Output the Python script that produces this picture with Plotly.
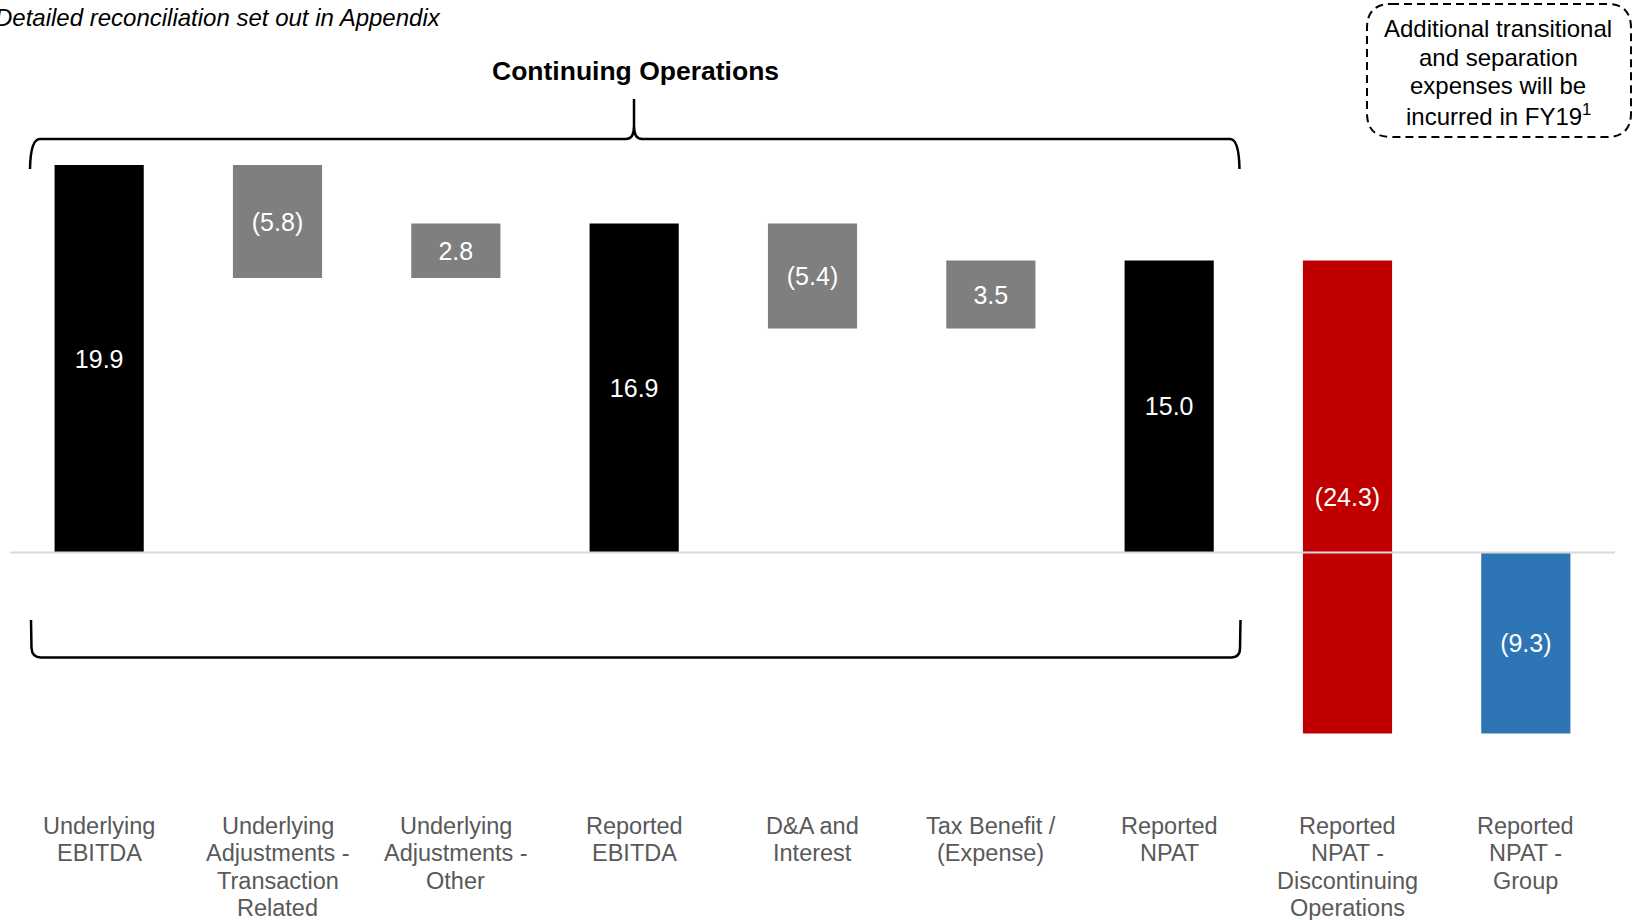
import plotly.graph_objects as go

# ---------------- data ----------------
categories = [
    "Underlying<br>EBITDA",
    "Underlying<br>Adjustments -<br>Transaction<br>Related",
    "Underlying<br>Adjustments -<br>Other",
    "Reported<br>EBITDA",
    "D&A and<br>Interest",
    "Tax Benefit /<br>(Expense)",
    "Reported<br>NPAT",
    "Reported<br>NPAT -<br>Discontinuing<br>Operations",
    "Reported<br>NPAT -<br>Group",
]
values = [19.9, -5.8, 2.8, 16.9, -5.4, 3.5, 15.0, -24.3, -9.3]
measures = ["total", "relative", "relative", "total", "relative", "relative",
            "total", "relative", "total"]
bar_colors = ["#000000", "#7f7f7f", "#7f7f7f", "#000000", "#7f7f7f", "#7f7f7f",
              "#000000", "#c00000", "#2e75b6"]

title_text = "<b>Continuing Operations</b>"
note_text = "<i>Detailed reconciliation set out in Appendix</i>"
box_lines = ["Additional transitional", "and separation", "expenses will be",
             "incurred in FY19<sup>1</sup>"]

# ---------------- waterfall geometry from data ----------------
bases, heights, labels = [], [], []
running = 0.0
for v, m in zip(values, measures):
    if m == "total":
        bases.append(0.0)
        running = v
    else:
        bases.append(running)
        running += v
    heights.append(v)
    labels.append(f"({abs(v):.1f})" if v < 0 else f"{v:.1f}")

# ---------------- layout constants ----------------
W, H = 1644, 920
ML, MR = 10, 29
PLOT_TOP, PLOT_BOT = 140, 811
ZERO_PX, PX_PER_UNIT = 552.5, 19.47
y_top = (ZERO_PX - PLOT_TOP) / PX_PER_UNIT
y_bot = (ZERO_PX - PLOT_BOT) / PX_PER_UNIT
PW = W - ML - MR
PH = PLOT_BOT - PLOT_TOP

def px(x):
    return (x - ML) / PW

def py(y):
    return (PLOT_BOT - y) / PH

def path(points_cmds):
    out = []
    for cmd in points_cmds:
        c = cmd[0]
        nums = cmd[1:]
        pts = []
        for i in range(0, len(nums), 2):
            pts.append(f"{px(nums[i]):.5f},{py(nums[i+1]):.5f}")
        out.append(c + " " + " ".join(pts))
    return " ".join(out)

FONT = "Arial, Liberation Sans, sans-serif"

fig = go.Figure()
fig.add_trace(go.Bar(
    x=categories,
    y=heights,
    base=bases,
    marker=dict(color=bar_colors, line=dict(width=0)),
    text=labels,
    textposition="inside",
    insidetextanchor="middle",
    textangle=0,
    constraintext="none",
    textfont=dict(color="white", size=25, family=FONT),
    hoverinfo="skip",
))

top_brace = path([
    ("M", 30, 169), ("Q", 30.5, 139, 40, 139), ("L", 626, 139),
    ("Q", 634, 139, 634, 126), ("L", 634, 99), ("L", 634, 126),
    ("Q", 634, 139, 642, 139), ("L", 1230, 139), ("Q", 1239, 139, 1239.5, 169),
])
bottom_brace = path([
    ("M", 31, 620), ("L", 31.5, 648), ("Q", 32, 657.5, 41, 657.5),
    ("L", 1231, 657.5), ("Q", 1240, 657.5, 1240, 648), ("L", 1240.5, 620),
])
bx0, by0, bx1, by1, r = 1367, 4, 1631, 137, 24
box_path = path([
    ("M", bx0 + r, by0), ("L", bx1 - r, by0), ("Q", bx1, by0, bx1, by0 + r),
    ("L", bx1, by1 - r), ("Q", bx1, by1, bx1 - r, by1), ("L", bx0 + r, by1),
    ("Q", bx0, by1, bx0, by1 - r), ("L", bx0, by0 + r), ("Q", bx0, by0, bx0 + r, by0),
])

shapes = [
    dict(type="line", xref="paper", yref="y", x0=0, x1=1, y0=0, y1=0,
         line=dict(color="#d9d9d9", width=2), layer="above"),
    dict(type="path", xref="paper", yref="paper", path=top_brace,
         line=dict(color="black", width=2.5), fillcolor="rgba(0,0,0,0)"),
    dict(type="path", xref="paper", yref="paper", path=bottom_brace,
         line=dict(color="black", width=2.5), fillcolor="rgba(0,0,0,0)"),
    dict(type="path", xref="paper", yref="paper", path=box_path,
         line=dict(color="black", width=2, dash="8px,5px"), fillcolor="rgba(0,0,0,0)"),
]

annotations = [
    dict(text=title_text, xref="paper", yref="paper", x=px(635), y=py(71),
         xanchor="center", yanchor="middle", showarrow=False,
         font=dict(size=26.5, color="black", family=FONT)),
    dict(text=note_text, xref="paper", yref="paper", x=px(443), y=py(18),
         xanchor="right", yanchor="middle", showarrow=False,
         font=dict(size=24, color="black", family=FONT)),
]
BOX_LINE0, BOX_STEP = 28.5, 28.7
for k, line in enumerate(box_lines):
    annotations.append(dict(
        text=line, xref="paper", yref="paper", x=px(1498), y=py(BOX_LINE0 + k * BOX_STEP),
        xanchor="center", yanchor="middle", showarrow=False,
        font=dict(size=24, color="black", family=FONT)))

# category labels (tight line spacing as in the reference), anchored on the category axis
CAT_LINE0, CAT_STEP = 826, 27.3
for cat in categories:
    for k, line in enumerate(cat.split("<br>")):
        annotations.append(dict(
            text=line, xref="x", yref="paper", x=cat, y=py(CAT_LINE0 + k * CAT_STEP),
            xanchor="center", yanchor="middle", showarrow=False,
            font=dict(size=23.5, color="#595959", family=FONT)))

fig.update_layout(
    width=W, height=H,
    template="none",
    margin=dict(l=ML, r=MR, t=PLOT_TOP, b=H - PLOT_BOT, pad=0),
    paper_bgcolor="white", plot_bgcolor="white",
    showlegend=False,
    bargap=0.5,
    shapes=shapes,
    annotations=annotations,
    font=dict(family=FONT),
)
fig.update_xaxes(
    type="category", showgrid=False, zeroline=False, showline=False,
    ticks="", automargin=False, showticklabels=False,
)
fig.update_yaxes(
    range=[y_bot, y_top], showgrid=False, zeroline=False, showline=False,
    showticklabels=False, ticks="", automargin=False,
)

fig.write_html(
    "out.html",
    config={"displayModeBar": False},
    post_script="document.body.style.margin='0';document.body.style.overflow='hidden';",
)
